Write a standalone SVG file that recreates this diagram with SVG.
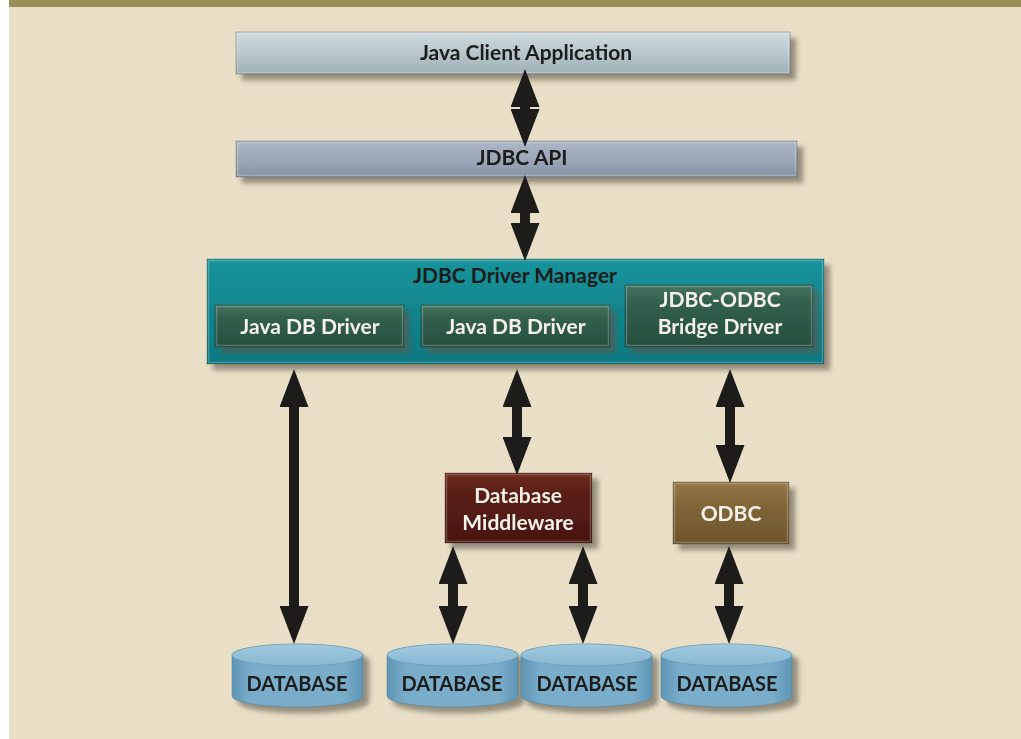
<svg xmlns="http://www.w3.org/2000/svg" width="1021" height="739" viewBox="0 0 1021 739">
<style>
.lbl{font-family:Lato,"Noto Sans","Liberation Sans",sans-serif;font-weight:bold;font-size:21px;text-anchor:middle}
.db{font-size:20px}
.dark{fill:#1c1c1c}
.light{fill:#f6f2ea}
.box{stroke:#000;stroke-opacity:0.25;stroke-width:1}
.hl{fill:none;stroke:#fff;stroke-opacity:0.22;stroke-width:1.5}
.arrow{stroke:#1e1b1b;stroke-width:10;fill:none;marker-start:url(#ah);marker-end:url(#ah)}
</style>
<defs>
<filter id="sh" x="-10%" y="-20%" width="130%" height="160%">
<feGaussianBlur in="SourceAlpha" stdDeviation="2.5"/>
<feOffset dx="6" dy="6" result="o"/>
<feFlood flood-color="#5e574a" flood-opacity="0.6"/>
<feComposite in2="o" operator="in"/>
<feMerge><feMergeNode/><feMergeNode in="SourceGraphic"/></feMerge>
</filter>
<linearGradient id="gClient" x1="0" y1="0" x2="0" y2="1"><stop offset="0" stop-color="#cfdbdf"/><stop offset="0.5" stop-color="#b8c7cc"/><stop offset="1" stop-color="#9eafb5"/></linearGradient>
<linearGradient id="gApi" x1="0" y1="0" x2="0" y2="1"><stop offset="0" stop-color="#adb7c6"/><stop offset="0.5" stop-color="#9ca7b8"/><stop offset="1" stop-color="#8793a5"/></linearGradient>
<linearGradient id="gMgr" x1="0" y1="0" x2="0" y2="1"><stop offset="0" stop-color="#1a939b"/><stop offset="0.5" stop-color="#11868e"/><stop offset="1" stop-color="#0d7880"/></linearGradient>
<linearGradient id="gDrv" x1="0" y1="0" x2="0" y2="1"><stop offset="0" stop-color="#46745f"/><stop offset="0.3" stop-color="#32604e"/><stop offset="1" stop-color="#264e3f"/></linearGradient>
<linearGradient id="gMid" x1="0" y1="0" x2="0" y2="1"><stop offset="0" stop-color="#6e2c22"/><stop offset="0.3" stop-color="#5a1e16"/><stop offset="1" stop-color="#481610"/></linearGradient>
<linearGradient id="gOdbc" x1="0" y1="0" x2="0" y2="1"><stop offset="0" stop-color="#97794a"/><stop offset="0.3" stop-color="#84683a"/><stop offset="1" stop-color="#6d542c"/></linearGradient>
<linearGradient id="gDb" x1="0" y1="0" x2="1" y2="0"><stop offset="0" stop-color="#5f95b4"/><stop offset="0.15" stop-color="#7aadca"/><stop offset="0.85" stop-color="#7aadca"/><stop offset="1" stop-color="#5f95b4"/></linearGradient>
<linearGradient id="gDbTop" x1="0" y1="0" x2="0" y2="1"><stop offset="0" stop-color="#a2cae0"/><stop offset="1" stop-color="#86b7d2"/></linearGradient>
<marker id="ah" viewBox="0 0 38 29" refX="18" refY="14.5" markerWidth="38" markerHeight="29" markerUnits="userSpaceOnUse" orient="auto-start-reverse">
<path d="M0,0 L38,14.5 L0,29 Z" fill="#1e1b1b"/>
</marker>
<g id="dbshape">
<path d="M0,11 A65.5,11 0 0 1 131,11 V52 A65.5,11 0 0 1 0,52 Z" fill="url(#gDb)" stroke="#4f7f99" stroke-opacity="0.5"/>
<ellipse cx="65.5" cy="11" rx="65.5" ry="11" fill="url(#gDbTop)" stroke="#5d8fab" stroke-opacity="0.4"/>
</g>
</defs>
<rect width="1021" height="739" fill="#ffffff"/>
<rect x="9" y="0" width="1012" height="739" fill="#e8dfc6"/>
<rect x="9" y="0" width="1012" height="7" fill="#9b8e57"/>

<g id="client" filter="url(#sh)">
<rect class="box" x="236" y="32" width="554" height="42" fill="url(#gClient)"/>
<rect class="hl" x="237.5" y="33.5" width="551" height="39"/>
<text class="lbl dark" x="526" y="60">Java Client Application</text>
</g>
<g id="jdbcapi" filter="url(#sh)">
<rect class="box" x="236" y="141" width="561" height="36" fill="url(#gApi)"/>
<rect class="hl" x="237.5" y="142.5" width="558" height="33"/>
<text class="lbl dark" x="522" y="165">JDBC API</text>
</g>
<g id="manager">
<g filter="url(#sh)">
<rect class="box" x="207" y="259" width="617" height="105" fill="url(#gMgr)"/>
<rect class="hl" x="208.5" y="260.5" width="614" height="102"/>
</g>
<text class="lbl dark" x="515" y="283">JDBC Driver Manager</text>
<g id="driver1" filter="url(#sh)">
<rect class="box" x="215" y="305" width="189" height="42" fill="url(#gDrv)"/>
<rect class="hl" x="216.5" y="306.5" width="186" height="39"/>
<text class="lbl light" x="310" y="334">Java DB Driver</text>
</g>
<g id="driver2" filter="url(#sh)">
<rect class="box" x="421" y="305" width="189" height="42" fill="url(#gDrv)"/>
<rect class="hl" x="422.5" y="306.5" width="186" height="39"/>
<text class="lbl light" x="516" y="334">Java DB Driver</text>
</g>
<g id="bridge" filter="url(#sh)">
<rect class="box" x="625" y="285" width="188" height="62" fill="url(#gDrv)"/>
<rect class="hl" x="626.5" y="286.5" width="185" height="59"/>
<text class="lbl light" x="720" y="307">JDBC-ODBC</text>
<text class="lbl light" x="720" y="334">Bridge Driver</text>
</g>
</g>
<g id="middleware" filter="url(#sh)">
<rect class="box" x="445" y="473" width="147" height="70" fill="url(#gMid)"/>
<rect class="hl" x="446.5" y="474.5" width="144" height="67"/>
<text class="lbl light" x="518" y="503">Database</text>
<text class="lbl light" x="518" y="530">Middleware</text>
</g>
<g id="odbc" filter="url(#sh)">
<rect class="box" x="673" y="482" width="116" height="62" fill="url(#gOdbc)"/>
<rect class="hl" x="674.5" y="483.5" width="113" height="59"/>
<text class="lbl light" x="731" y="521">ODBC</text>
</g>
<g id="db1" filter="url(#sh)">
<use href="#dbshape" x="232" y="644"/>
<text class="lbl db dark" x="297" y="691">DATABASE</text>
</g>
<g id="db2" filter="url(#sh)">
<use href="#dbshape" x="387" y="644"/>
<text class="lbl db dark" x="452" y="691">DATABASE</text>
</g>
<g id="db3" filter="url(#sh)">
<use href="#dbshape" x="521" y="644"/>
<text class="lbl db dark" x="587" y="691">DATABASE</text>
</g>
<g id="db4" filter="url(#sh)">
<use href="#dbshape" x="661" y="644"/>
<text class="lbl db dark" x="727" y="691">DATABASE</text>
</g>

<g id="connectors">
<line class="arrow" x1="525" y1="89" x2="525" y2="127"/>
<line class="arrow" x1="525" y1="195" x2="525" y2="241"/>
<line class="arrow" x1="294" y1="389" x2="294" y2="624"/>
<line class="arrow" x1="517" y1="389" x2="517" y2="455"/>
<line class="arrow" x1="730" y1="389" x2="730" y2="463"/>
<line class="arrow" x1="453" y1="566" x2="453" y2="624"/>
<line class="arrow" x1="583" y1="566" x2="583" y2="624"/>
<line class="arrow" x1="729" y1="566" x2="729" y2="624"/>
</g>
</svg>
